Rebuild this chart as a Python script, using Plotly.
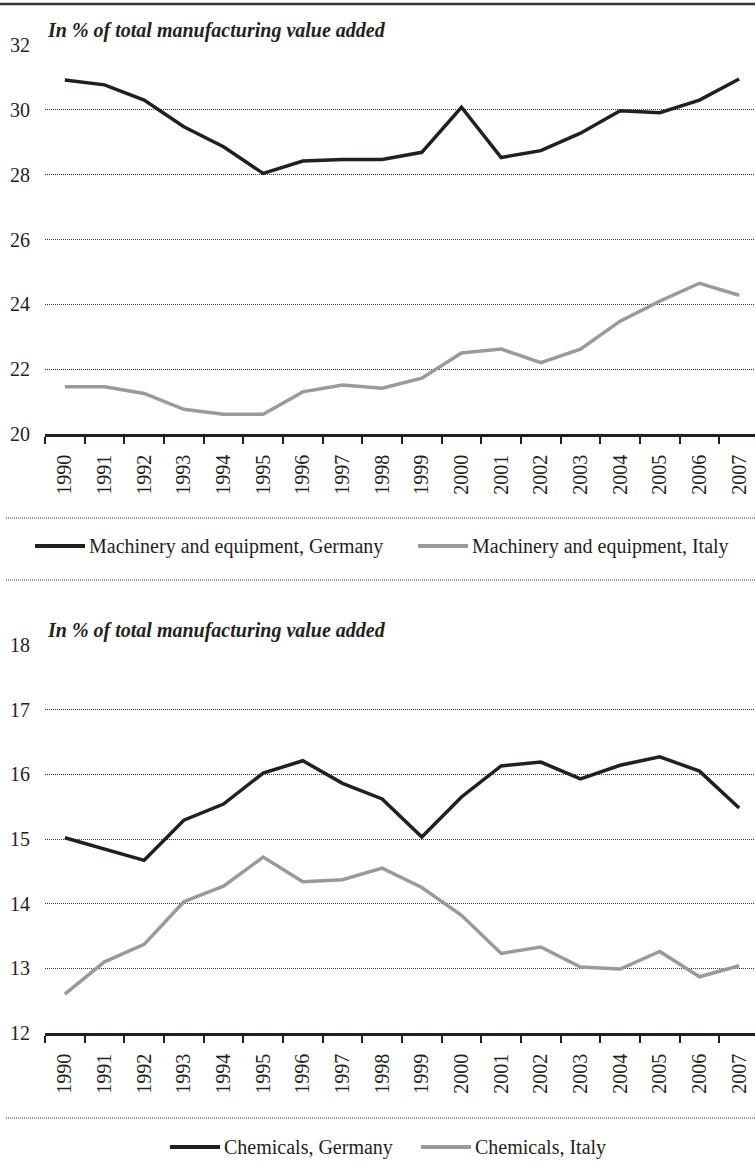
import plotly.graph_objects as go

years = [str(y) for y in range(1990, 2008)]

mach_germany = [30.92, 30.77, 30.30, 29.48, 28.86, 28.04, 28.42, 28.47, 28.47, 28.69,
                30.08, 28.53, 28.74, 29.28, 29.97, 29.91, 30.30, 30.95]
mach_italy = [21.46, 21.46, 21.25, 20.76, 20.61, 20.61, 21.30, 21.51, 21.41, 21.72,
              22.50, 22.62, 22.20, 22.62, 23.48, 24.10, 24.65, 24.28]

chem_germany = [15.02, 14.85, 14.67, 15.29, 15.54, 16.02, 16.21, 15.86, 15.62, 15.03,
                15.65, 16.13, 16.19, 15.93, 16.14, 16.27, 16.05, 15.48]
chem_italy = [12.60, 13.10, 13.37, 14.03, 14.27, 14.72, 14.34, 14.37, 14.55, 14.25,
              13.82, 13.23, 13.33, 13.02, 12.99, 13.26, 12.87, 13.04]

names_top = ["Machinery and equipment, Germany", "Machinery and equipment, Italy"]
names_bottom = ["Chemicals, Germany", "Chemicals, Italy"]
title_text = "In % of total manufacturing value added"

W, H = 755, 1169
DARK = "#231f20"
GREY = "#9a9a9a"
FONT = "Liberation Serif, Times New Roman, DejaVu Serif, serif"


def py(px):
    return 1 - px / H


def pxx(px):
    return px / W


fig = go.Figure()
fig.add_trace(go.Scatter(x=years, y=mach_germany, mode="lines", name=names_top[0],
                         line=dict(color=DARK, width=3.5), xaxis="x", yaxis="y"))
fig.add_trace(go.Scatter(x=years, y=mach_italy, mode="lines", name=names_top[1],
                         line=dict(color=GREY, width=3.5), xaxis="x", yaxis="y"))
fig.add_trace(go.Scatter(x=years, y=chem_germany, mode="lines", name=names_bottom[0],
                         line=dict(color=DARK, width=3.5), xaxis="x2", yaxis="y2"))
fig.add_trace(go.Scatter(x=years, y=chem_italy, mode="lines", name=names_bottom[1],
                         line=dict(color=GREY, width=3.5), xaxis="x2", yaxis="y2"))

xdom = [45 / W, 1]
xcommon = dict(type="category", tickson="boundaries", ticks="outside", ticklen=7, tickwidth=2,
               tickcolor=DARK, showline=True, linewidth=2.5, linecolor=DARK, showgrid=False,
               tickangle=-90, range=[-0.5, 17.4], domain=xdom, automargin=False,
               tickfont=dict(family=FONT, size=20, color=DARK), ticklabelstandoff=10)
ycommon = dict(showgrid=True, griddash="1px,1px", gridcolor="#333", gridwidth=1, zeroline=False,
               showline=False, ticks="", tickfont=dict(family=FONT, size=20, color=DARK),
               ticklabelstandoff=14, automargin=False)

fig.update_layout(
    width=W, height=H, margin=dict(l=0, r=0, t=0, b=0, autoexpand=False),
    paper_bgcolor="white", plot_bgcolor="white",
    font=dict(family=FONT, color=DARK),
    xaxis=dict(**xcommon, anchor="y"),
    yaxis=dict(**ycommon, range=[20, 32], dtick=2, domain=[py(434), py(45)], anchor="x"),
    xaxis2=dict(**xcommon, anchor="y2"),
    yaxis2=dict(**ycommon, range=[12, 18], dtick=1, domain=[py(1033), py(645)], anchor="x2"),
    showlegend=False,
)

for ty in (30, 630):
    fig.add_annotation(text="<b><i>" + title_text + "</i></b>", xref="paper", yref="paper",
                       x=pxx(45), y=py(ty), xanchor="left", yanchor="middle", showarrow=False,
                       font=dict(family=FONT, size=20, color=DARK))

# top rule
fig.add_shape(type="line", xref="paper", yref="paper", x0=0, x1=1, y0=py(4), y1=py(4),
              line=dict(color="#333", width=2.5))
# dotted separators
for sy in (518, 580, 1118):
    fig.add_shape(type="line", xref="paper", yref="paper", x0=pxx(6), x1=1, y0=py(sy), y1=py(sy),
                  line=dict(color="#333", width=1, dash="1px,1px"))

# legends (line sample + label)
legend_items = [
    (names_top[0], DARK, 35, 546), (names_top[1], GREY, 418, 546),
    (names_bottom[0], DARK, 170, 1147), (names_bottom[1], GREY, 421, 1147),
]
for name, col, lx, ly in legend_items:
    fig.add_shape(type="line", xref="paper", yref="paper", x0=pxx(lx), x1=pxx(lx + 50),
                  y0=py(ly), y1=py(ly), line=dict(color=col, width=4))
    fig.add_annotation(text=name, xref="paper", yref="paper", x=pxx(lx + 52), y=py(ly),
                       xanchor="left", yanchor="middle", showarrow=False,
                       font=dict(family=FONT, size=20, color=DARK))

fig.write_html("out.html", config={"displayModeBar": False},
               post_script="document.body.style.margin='0';")
